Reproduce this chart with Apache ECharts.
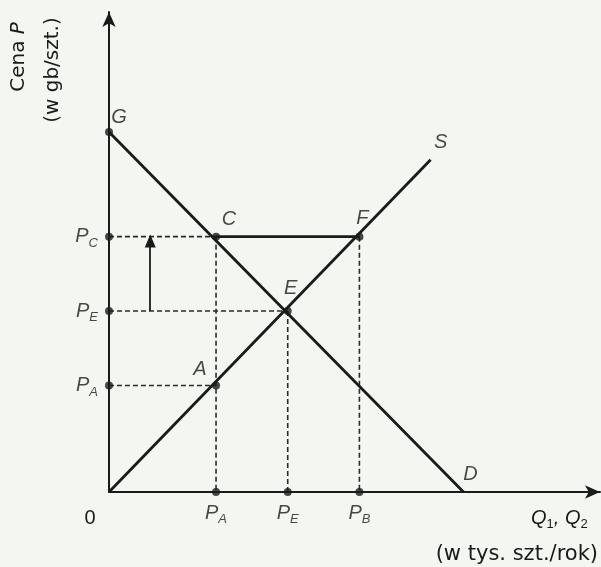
<!DOCTYPE html>
<html><head><meta charset="utf-8">
<script src="https://cdn.jsdelivr.net/npm/echarts@6/dist/echarts.min.js"></script>
<style>html,body{margin:0;padding:0;background:#f4f7f1}#c{width:601px;height:567px}</style>
</head><body><div id="c"></div>
<script>
// ---- data (arbitrary units) ----
const qtyTickSubs = ['A', 'E', 'B'];
const qtyTickValues = [21.8, 36.4, 51.0];
const priceTickSubs = ['C', 'E', 'A'];
const priceTickValues = [53.2, 37.7, 22.2];
const demandLine = [[0, 75], [72.2, 0]];
const supplyLine = [[0, 0], [65.5, 69.2]];
const ceilingLine = [[21.8, 53.2], [51.0, 53.2]];
const pointNames = ['G', 'C', 'F', 'E', 'A', 'D', 'S'];
const pointValues = [[0, 75], [21.8, 53.2], [51.0, 53.2], [36.4, 37.7], [21.8, 22.2], [72.2, 0], [65.5, 69.2]];
const pointDots = [true, true, true, true, true, false, false];
const priceRise = { q: 8.4, from: 37.7, to: 52.3 };
// dashed guide segments: [from, to]
const guideSegments = [
  [[0, 53.2], [21.8, 53.2]],
  [[0, 37.7], [36.4, 37.7]],
  [[0, 22.2], [21.8, 22.2]],
  [[21.8, 53.2], [21.8, 0]],
  [[36.4, 37.7], [36.4, 0]],
  [[51.0, 53.2], [51.0, 0]]
];

// ---- layout / style ----
const INK = '#1a1a1a';
const labelOffsets = { G: [10, -15], C: [13, -17], F: [3, -18], E: [3, -23], A: [-16, -16], D: [7, -18], S: [10, -17] };
const italicFont = '"Liberation Sans", Arial, sans-serif';
const titleFont = '"DejaVu Sans", sans-serif';
const subRich = {
  p: { fontSize: 20, fontStyle: 'italic', color: INK, fontFamily: italicFont },
  s: { fontSize: 13, fontStyle: 'italic', color: INK, fontFamily: italicFont, padding: [13, 0, 0, 0] }
};

const chart = echarts.init(document.getElementById('c'), null, { renderer: 'canvas' });

const series = [];
guideSegments.forEach(seg => series.push({
  type: 'line', data: seg, symbol: 'none', silent: true,
  lineStyle: { color: '#2a2a2a', width: 1.6, type: [5, 3] }, z: 1
}));
series.push({ type: 'line', data: demandLine, symbol: 'none', lineStyle: { color: INK, width: 2.8 }, z: 3 });
series.push({ type: 'line', data: supplyLine, symbol: 'none', lineStyle: { color: INK, width: 2.8 }, z: 3 });
series.push({ type: 'line', data: ceilingLine, symbol: 'none', lineStyle: { color: INK, width: 2.8 }, z: 3 });
// price rise arrow
series.push({
  type: 'line', data: [], symbol: 'none',
  markLine: {
    silent: true, symbol: ['none', 'triangle'], symbolSize: [11, 13], label: { show: false },
    lineStyle: { color: INK, width: 1.8, type: 'solid' },
    data: [[{ coord: [priceRise.q, priceRise.from] }, { coord: [priceRise.q, priceRise.to] }]]
  }
});
// named points
series.push({
  type: 'scatter', z: 5,
  data: pointNames.map((n, i) => ({
    name: n, value: pointValues[i],
    symbolSize: pointDots[i] ? 8 : 0,
    label: { show: true, position: 'inside', offset: labelOffsets[n], formatter: n }
  })),
  itemStyle: { color: INK },
  label: { fontSize: 20, fontStyle: 'italic', color: INK, fontFamily: italicFont }
});
// price ticks on the vertical axis
series.push({
  type: 'scatter', z: 5, symbolSize: 8, itemStyle: { color: INK },
  data: priceTickValues.map((v, i) => ({ value: [0, v], sub: priceTickSubs[i] })),
  label: { show: true, position: 'left', distance: 7, formatter: p => '{p|P}{s|' + p.data.sub + '}', rich: subRich }
});
// quantity ticks on the horizontal axis
series.push({
  type: 'scatter', z: 5, symbolSize: 8, itemStyle: { color: INK },
  data: qtyTickValues.map((v, i) => ({ value: [v, 0], sub: qtyTickSubs[i] })),
  label: { show: true, position: 'bottom', distance: 4, formatter: p => '{p|P}{s|' + p.data.sub + '}', rich: subRich }
});

chart.setOption({
  backgroundColor: '#f4f7f1',
  animation: false,
  grid: { left: 109, right: 1, top: 12, bottom: 75 },
  xAxis: {
    type: 'value', min: 0, max: 100,
    axisLine: { show: true, symbol: ['none', 'arrow'], symbolSize: [10, 15], lineStyle: { color: INK, width: 2 } },
    axisTick: { show: false }, axisLabel: { show: false }, splitLine: { show: false }
  },
  yAxis: {
    type: 'value', min: 0, max: 100,
    axisLine: { show: true, symbol: ['none', 'arrow'], symbolSize: [10, 15], lineStyle: { color: INK, width: 2 } },
    axisTick: { show: false }, axisLabel: { show: false }, splitLine: { show: false }
  },
  series: series,
  graphic: [
    { type: 'text', x: 19, y: 57, rotation: Math.PI / 2, style: {
      text: '{a|Cena }{b|P}', align: 'center', verticalAlign: 'middle',
      rich: { a: { fontSize: 20, fill: INK, fontFamily: titleFont }, b: { fontSize: 20, fontStyle: 'italic', fill: INK, fontFamily: titleFont } } } },
    { type: 'text', x: 53, y: 70, rotation: Math.PI / 2, style: {
      text: '(w gb/szt.)', align: 'center', verticalAlign: 'middle', fontSize: 20, fill: INK, fontFamily: titleFont } },
    { type: 'text', x: 90, y: 518, style: { text: '0', align: 'center', verticalAlign: 'middle', fontSize: 20, fill: INK, fontFamily: italicFont } },
    { type: 'text', x: 531, y: 518, style: {
      text: '{p|Q}{s|1}{p|, Q}{s|2}', align: 'left', verticalAlign: 'middle',
      rich: { p: { fontSize: 20, fontStyle: 'italic', fill: INK, fontFamily: italicFont }, s: { fontSize: 13, fill: INK, fontFamily: italicFont, padding: [12, 0, 0, 0] } } } },
    { type: 'text', x: 598, y: 555, style: { text: '(w tys. szt./rok)', align: 'right', verticalAlign: 'middle', fontSize: 21, fill: INK, fontFamily: titleFont } }
  ]
});
</script></body></html>
